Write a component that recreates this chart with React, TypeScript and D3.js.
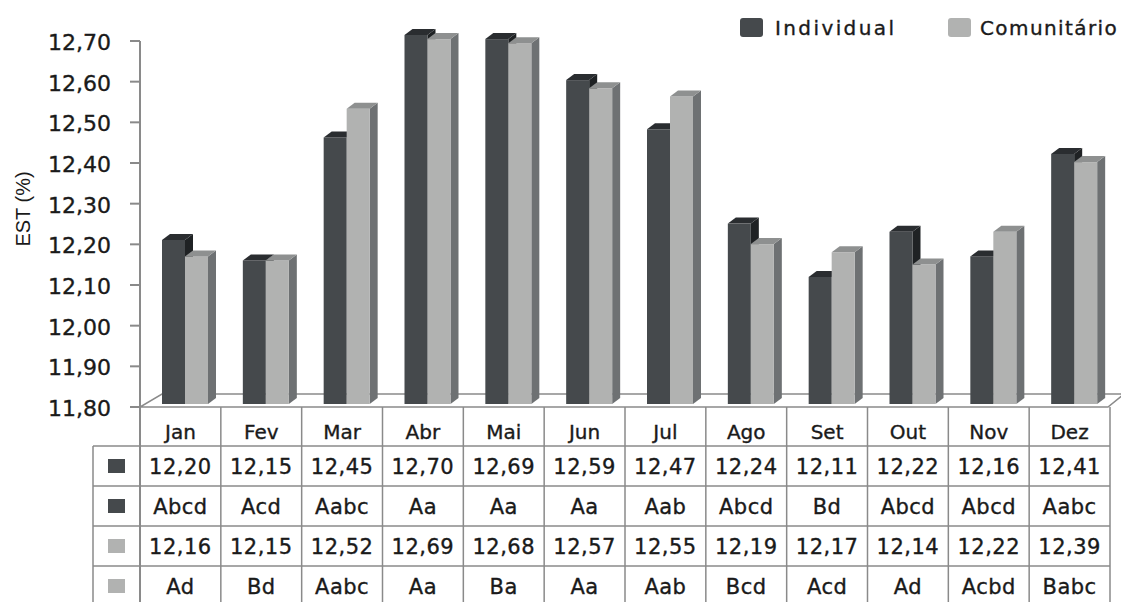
import React from "react";
import * as d3 from "d3";

const months = ["Jan", "Fev", "Mar", "Abr", "Mai", "Jun", "Jul", "Ago", "Set", "Out", "Nov", "Dez"];
const seriesNames = ["Individual", "Comunitário"];
const individual = [12.2, 12.15, 12.45, 12.7, 12.69, 12.59, 12.47, 12.24, 12.11, 12.22, 12.16, 12.41];
const comunitario = [12.16, 12.15, 12.52, 12.69, 12.68, 12.57, 12.55, 12.19, 12.17, 12.14, 12.22, 12.39];
const individualLetters = ["Abcd", "Acd", "Aabc", "Aa", "Aa", "Aa", "Aab", "Abcd", "Bd", "Abcd", "Abcd", "Aabc"];
const comunitarioLetters = ["Ad", "Bd", "Aabc", "Aa", "Ba", "Aa", "Aab", "Bcd", "Acd", "Ad", "Acbd", "Babc"];
const yTicks = [11.8, 11.9, 12.0, 12.1, 12.2, 12.3, 12.4, 12.5, 12.6, 12.7];

const DARK = "#45494c";
const DARK_TOP = "#2a2d30";
const DARK_SIDE = "#1f2224";
const LIGHT = "#b1b2b1";
const LIGHT_TOP = "#8e9090";
const LIGHT_SIDE = "#6e7173";
const GRID = "#8a8a8a";
const TEXT = "#1a1a1a";
const FONT = "'DejaVu Sans', Verdana, sans-serif";

const fmt = (v: number) => v.toFixed(2).replace(".", ",");

export default function App() {
  const x = d3.scaleBand<string>().domain(months).range([140, 1110]).paddingInner(0).paddingOuter(0);
  const sub = d3.scaleBand<string>().domain(seriesNames).range([22, 68]);
  const yAxis = d3.scaleLinear().domain([11.8, 12.7]).range([407, 41]);
  const yBar = d3.scaleLinear().domain([11.8, 12.7]).range([404, 35]);
  const dx = 8;
  const dy = 6;

  const bar = (xl: number, w: number, v: number, front: string, top: string, side: string, key: string) => {
    const yt = yBar(v);
    const yb = yBar(11.8);
    return (
      <g key={key}>
        <polygon points={`${xl + w},${yt} ${xl + w + dx},${yt - dy} ${xl + w + dx},${yb - dy} ${xl + w},${yb}`} fill={side} />
        <rect x={xl} y={yt} width={w} height={yb - yt} fill={front} />
        <polygon points={`${xl},${yt} ${xl + dx},${yt - dy} ${xl + w + dx},${yt - dy} ${xl + w},${yt}`} fill={top} />
      </g>
    );
  };

  const rowTops = [446, 486, 526, 566];
  const rowH = 40;
  const rows = [
    { vals: individual.map(fmt), color: DARK },
    { vals: individualLetters, color: DARK },
    { vals: comunitario.map(fmt), color: LIGHT },
    { vals: comunitarioLetters, color: LIGHT },
  ];
  const tableRight = x.range()[1];
  const textStroke = { stroke: TEXT, strokeWidth: 0.35 };

  return (
    <svg width={1121} height={602} style={{ position: "absolute", left: 0, top: 0, background: "#fff" }} fontFamily={FONT}>
      {/* floor */}
      <polygon points={`140,407 ${tableRight - 2},407 1124,394 162,394`} fill="#fff" stroke={GRID} strokeWidth={1.5} />

      {/* bars */}
      {months.map((m, i) => {
        const bx = x(m)!;
        return (
          <g key={m}>
            {bar(bx + sub("Individual")!, sub.bandwidth(), individual[i], DARK, DARK_TOP, DARK_SIDE, "a")}
            {bar(bx + sub("Comunitário")!, sub.bandwidth(), comunitario[i], LIGHT, LIGHT_TOP, LIGHT_SIDE, "b")}
          </g>
        );
      })}

      {/* y axis */}
      <line x1={140} x2={140} y1={yAxis(12.7)} y2={606} stroke={GRID} strokeWidth={2} />
      {yTicks.map((t) => (
        <g key={t}>
          <line x1={130} x2={140} y1={yAxis(t)} y2={yAxis(t)} stroke={GRID} strokeWidth={2} />
          <text x={111} y={yAxis(t) + 9} textAnchor="end" fontSize={22} fill={TEXT} {...textStroke}>
            {fmt(t)}
          </text>
        </g>
      ))}
      <text
        transform={`translate(30,${209}) rotate(-90)`}
        textAnchor="middle"
        fontSize={20}
        fontFamily="'Liberation Sans', Arial, sans-serif"
        fill={TEXT}
      >
        EST (%)
      </text>

      {/* legend */}
      <rect x={740} y={18} width={23} height={19} rx={3} fill={DARK} />
      <text x={775} y={35} fontSize={20} letterSpacing={2.4} fill={TEXT} {...textStroke}>Individual</text>
      <rect x={948} y={18} width={23} height={19} rx={3} fill={LIGHT} />
      <text x={980} y={35} fontSize={20} letterSpacing={1.4} fill={TEXT} {...textStroke}>Comunitário</text>

      {/* table */}
      <g stroke={GRID} strokeWidth={1.5} fill="none">
        {rowTops.map((t) => (
          <line key={t} x1={93} x2={tableRight} y1={t} y2={t} />
        ))}
        <line x1={93} x2={93} y1={446} y2={606} />
        {months.map((m) => (
          <line key={m} x1={x(m)! + x.bandwidth()} x2={x(m)! + x.bandwidth()} y1={407} y2={606} />
        ))}
      </g>
      {months.map((m) => (
        <text key={m} x={x(m)! + x.bandwidth() / 2} y={439} textAnchor="middle" fontSize={20} fill={TEXT} {...textStroke}>
          {m}
        </text>
      ))}
      {rows.map((r, ri) => (
        <g key={ri}>
          <rect x={108} y={rowTops[ri] + rowH / 2 - 7} width={17} height={14} fill={r.color} />
          {r.vals.map((v, i) => (
            <text
              key={i}
              x={x(months[i])! + x.bandwidth() / 2}
              y={rowTops[ri] + rowH / 2 + 8}
              textAnchor="middle"
              fontSize={21}
              letterSpacing={0.5}
              fill={TEXT}
              {...textStroke}
            >
              {v}
            </text>
          ))}
        </g>
      ))}
    </svg>
  );
}
